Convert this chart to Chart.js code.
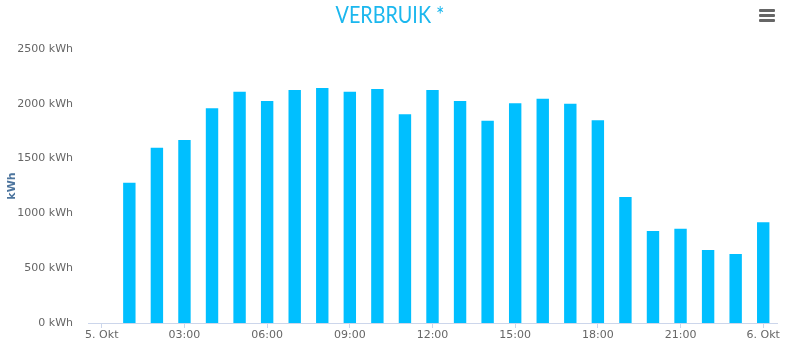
<!DOCTYPE html>
<html>
<head>
<meta charset="utf-8">
<script src="https://cdn.jsdelivr.net/npm/chart.js@4/dist/chart.umd.min.js"></script>
<style>
	body { margin: 0; background: #fff; }
	#wrap { position: relative; width: 801px; height: 344px; }
	.title {
		position: absolute; left: 0; top: 0; width: 780px; text-align: center;
		font: 400 23px Lato, 'Open Sans', sans-serif; color: #1bb7ee;
		transform: scaleX(0.86); transform-origin: 390px 0;
	}
	.menu { position: absolute; left: 759px; width: 16px; height: 3px; background: #666; border-radius: 1px; }
</style>
</head>
<body>
<div id="wrap">
	<canvas id="verbruik" width="801" height="344"></canvas>
	<div class="title">VERBRUIK *</div>
	<div class="menu" style="top: 9px"></div>
	<div class="menu" style="top: 14px"></div>
	<div class="menu" style="top: 19px"></div>
</div>
<script>
// hourly consumption, 5 Oct 00:00 .. 6 Oct 00:00
const hours = [
	'5. Okt', '01:00', '02:00', '03:00', '04:00', '05:00', '06:00', '07:00', '08:00',
	'09:00', '10:00', '11:00', '12:00', '13:00', '14:00', '15:00', '16:00', '17:00',
	'18:00', '19:00', '20:00', '21:00', '22:00', '23:00', '6. Okt'
]
const verbruik = [
	null, 1280, 1600, 1670, 1960, 2110, 2025, 2125, 2145,
	2110, 2135, 1905, 2125, 2025, 1845, 2005, 2045, 2000,
	1850, 1150, 840, 860, 665, 630, 920
]
const yTicks = [0, 500, 1000, 1500, 2000, 2500]

const font = 'DejaVu Sans, Verdana, sans-serif'

new Chart(document.getElementById('verbruik').getContext('2d'), {
	type: 'bar',
	data: {
		labels: hours,
		datasets: [
			{
				label: 'Verbruik',
				data: verbruik,
				backgroundColor: '#00bfff',
				borderWidth: 0,
				categoryPercentage: 0.45,
				barPercentage: 1
			}
		]
	},
	options: {
		responsive: false,
		animation: false,
		layout: { padding: { top: 49, right: 24, bottom: 0, left: 0 } },
		plugins: {
			legend: { display: false },
			tooltip: { enabled: false },
			title: { display: false }
		},
		scales: {
			x: {
				offset: true,
				border: { display: true, color: '#ccd6eb', width: 1 },
				grid: {
					offset: false,
					drawOnChartArea: false,
					drawTicks: true,
					tickLength: 5,
					color: (ctx) => (ctx.index % 3 === 0 ? '#ccd6eb' : 'rgba(0,0,0,0)')
				},
				ticks: {
					autoSkip: false,
					maxRotation: 0,
					padding: 1,
					color: '#666',
					font: { family: font, size: 11 },
					callback: (v, i) => (i % 3 === 0 ? hours[i] : '')
				},
				afterFit: (scale) => { scale.height = 21 }
			},
			y: {
				min: yTicks[0],
				max: yTicks[yTicks.length - 1],
				border: { display: false },
				grid: { display: false },
				afterBuildTicks: (scale) => { scale.ticks = yTicks.map((v) => ({ value: v })) },
				ticks: {
					padding: 7,
					color: '#666',
					font: { family: font, size: 11 },
					callback: (v) => v + ' kWh'
				},
				title: {
					display: true,
					text: 'kWh',
					color: '#4d759e',
					font: { family: font, size: 11, weight: 'bold' },
					padding: { top: 6, bottom: 0 }
				},
				afterFit: (scale) => { scale.width = 88 }
			}
		}
	}
})
</script>
</body>
</html>
